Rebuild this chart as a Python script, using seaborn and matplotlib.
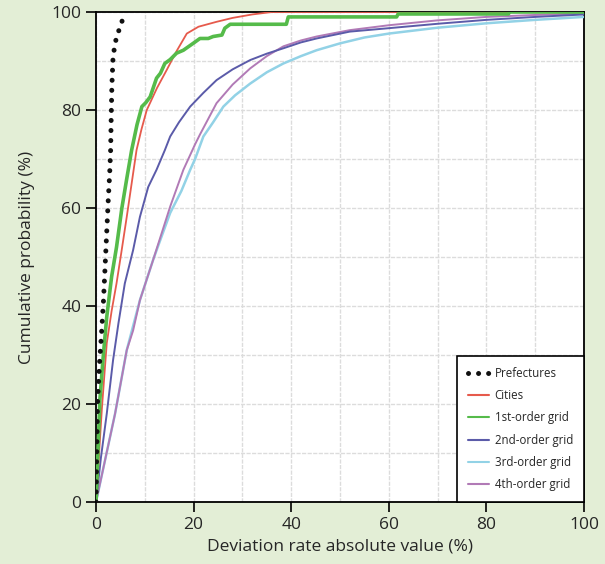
import matplotlib
matplotlib.use("Agg")
import matplotlib.pyplot as plt
import seaborn as sns

# cumulative curves (x = deviation %, y = cumulative %)
pref_x = [0, 0.15, 0.3, 0.7, 1.1, 1.5, 2.0, 2.5, 2.8, 3.0, 3.1, 3.25, 3.5, 4.0, 4.6, 5.3, 5.8]
pref_y = [0, 10, 20, 28, 34, 40.5, 51, 61.5, 67, 72, 78, 85, 91, 94, 96, 98, 100]

city_x = [0, 1.2, 2.2, 3.2, 4.2, 5.2, 6.3, 7.3, 8.3, 9.3, 10.4, 12.5, 14.5, 16.5, 18.6,
          21.0, 24.7, 28.0, 32.0, 36.0, 100]
city_y = [0, 19, 32.4, 39, 44.6, 51, 58.2, 65, 71.8, 76, 80, 84.5, 88.2, 92, 95.6,
          97, 98, 98.8, 99.5, 100, 100]

g1_x = [0, 0.8, 1.5, 2.2, 3.2, 4.2, 5.3, 6.3, 7.3, 8.4, 9.4, 10.2, 11.1, 12.4, 13.2,
        14.1, 15.2, 16.5, 17.9, 19.9, 21.3, 23.0, 24.0, 25.8, 26.4, 27.5, 39.0, 39.4,
        61.6, 61.9, 84.5, 84.8, 100]
g1_y = [0, 21, 30, 37.8, 46, 52, 60, 66, 71.8, 77, 80.7, 81.5, 82.7, 86.5, 87.5,
        89.5, 90.3, 91.6, 92.2, 93.6, 94.6, 94.6, 95.0, 95.3, 96.7, 97.5, 97.5, 99.0,
        99.0, 99.6, 99.6, 100, 100]

g2_x = [0, 1.0, 2.2, 3.5, 4.6, 5.9, 7.6, 9.0, 10.7, 12.4, 14.1, 15.2, 17.0, 19.3, 22.0,
        24.7, 28.0, 31.6, 35.0, 38.4, 42.0, 45.2, 52.0, 60.0, 70.0, 80.0, 90.0, 100]
g2_y = [0, 9, 18, 29, 36.5, 44.6, 51.4, 58.2, 64.3, 67.8, 71.8, 74.6, 77.5, 80.7, 83.5,
        86.1, 88.3, 90.2, 91.5, 92.6, 93.8, 94.6, 96.0, 96.7, 97.6, 98.4, 99.0, 99.5]

g3_x = [0, 3.9, 6.3, 9.0, 11.7, 13.0, 15.2, 17.5, 19.3, 20.3, 22.0, 24.0, 26.1, 28.5,
        31.6, 35.0, 38.4, 42.0, 45.2, 50.0, 55.0, 60.0, 70.0, 80.0, 90.0, 100]
g3_y = [0, 18, 31, 41.2, 49.4, 53, 59, 63.5, 67.8, 70, 74.6, 77.5, 80.7, 83, 85.4,
        87.7, 89.5, 91, 92.2, 93.6, 94.8, 95.6, 96.8, 97.7, 98.4, 99.0]

g4_x = [0, 3.9, 6.3, 7.6, 9.0, 11.7, 15.2, 17.9, 20.3, 21.3, 24.7, 28.0, 31.6, 35.0,
        38.4, 42.0, 45.2, 52.0, 60.0, 70.0, 80.0, 90.0, 100]
g4_y = [0, 18, 31, 35, 41.2, 49.4, 60.3, 67.8, 73, 75, 81.4, 85.2, 88.5, 91, 93,
        94.2, 95, 96.3, 97.3, 98.3, 99.0, 99.4, 99.7]

labels = ["Prefectures", "Cities", "1st-order grid", "2nd-order grid", "3rd-order grid", "4th-order grid"]
colors = ["#111111", "#e65a4c", "#55bb4a", "#5b5ba9", "#92d2e6", "#b17ab6"]

sns.set_style("white")
plt.rcParams["font.family"] = ["Open Sans", "DejaVu Sans"]

fig = plt.figure(figsize=(6.05, 5.64), dpi=100, facecolor="#e3eed6")
ax = fig.add_axes([0.1587, 0.1099, 0.8066, 0.8688])
ax.set_facecolor("white")

series = [(pref_x, pref_y), (city_x, city_y), (g1_x, g1_y), (g2_x, g2_y), (g3_x, g3_y), (g4_x, g4_y)]
widths = [3.6, 1.3, 2.6, 1.4, 1.8, 1.4]
order = [4, 5, 3, 1, 2, 0]
for i in order:
    xs, ys = series[i]
    kw = {}
    if i == 0:
        kw = dict(dashes=False, linestyle=(0, (0.01, 2.0)), dash_capstyle="round")
    sns.lineplot(x=xs, y=ys, ax=ax, color=colors[i], linewidth=widths[i],
                 estimator=None, sort=False, label=labels[i], zorder=3 + (i == 0), **kw)

ax.set_xlim(0, 100)
ax.set_ylim(0, 100)
ax.set_xticks(range(0, 101, 20))
ax.set_yticks(range(0, 101, 20))
ax.set_xticks(range(10, 100, 20), minor=True)
ax.set_yticks(range(10, 100, 20), minor=True)
ax.grid(True, which="both", color="#dcdcdc", linestyle=(0, (3, 1)), linewidth=1.0)
ax.tick_params(axis="both", which="major", direction="out", length=7, width=1.2,
               labelsize=12.5, color="black", bottom=True, left=True)
ax.tick_params(axis="both", which="minor", length=0)
for sp in ax.spines.values():
    sp.set_color("black")
    sp.set_linewidth(1.3)

ax.set_xlabel("Deviation rate absolute value (%)", fontsize=12.5, labelpad=4)
ax.set_ylabel("Cumulative probability (%)", fontsize=12.5, labelpad=12)

handles, labs = ax.get_legend_handles_labels()
hmap = dict(zip(labs, handles))
leg = ax.legend([hmap[l] for l in labels], labels, loc="lower right", borderaxespad=0,
                frameon=True, fancybox=False, edgecolor="black",
                handlelength=1.9, handletextpad=0.45, labelspacing=0.8, borderpad=0.95,
                prop={"family": ["Open Sans", "DejaVu Sans"], "size": 8.3})
leg.get_frame().set_linewidth(1.2)
leg.get_frame().set_alpha(1)
for ln in leg.get_lines()[1:]:
    ln.set_linewidth(1.5)

fig.savefig("out.png", dpi=100, facecolor=fig.get_facecolor())
